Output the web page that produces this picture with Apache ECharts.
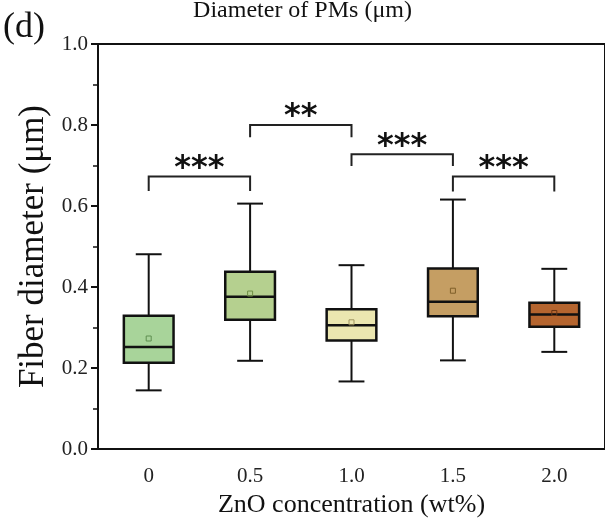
<!DOCTYPE html>
<html>
<head>
<meta charset="utf-8">
<script src="https://cdn.jsdelivr.net/npm/echarts@6/dist/echarts.min.js"></script>
<style>html,body{margin:0;padding:0;background:#fff;}#c{width:605px;height:523px;}</style>
</head>
<body>
<div id="c"></div>
<script>
const categories = ['0', '0.5', '1.0', '1.5', '2.0'];
const whiskerLow  = [0.145, 0.218, 0.167, 0.219, 0.240];
const q1          = [0.213, 0.319, 0.268, 0.328, 0.302];
const median      = [0.252, 0.376, 0.306, 0.364, 0.332];
const q3          = [0.329, 0.438, 0.345, 0.446, 0.361];
const whiskerHigh = [0.481, 0.606, 0.454, 0.616, 0.445];
const meanVal     = [0.273, 0.384, 0.313, 0.391, 0.336];
const boxColors   = ['#a8d49a', '#b5d08f', '#ebe6b0', '#c59e63', '#b5652f'];
const meanColors  = ['#5f8f50', '#6f8f45', '#a09560', '#7f5f2a', '#6a3515'];

const sigFrom  = [0, 1, 2, 3];
const sigTo    = [1, 2, 3, 4];
const sigTop   = [0.673, 0.800, 0.728, 0.673];
const sigDrop  = [0.637, 0.770, 0.699, 0.636];
const sigText  = ['***', '**', '***', '***'];
const sigTextY = [0.709, 0.837, 0.764, 0.709];

const yTicks = [0, 0.2, 0.4, 0.6, 0.8, 1.0];

const boxData = categories.map((c, i) => [i, whiskerLow[i], q1[i], median[i], q3[i], whiskerHigh[i], meanVal[i]]);
const sigData = sigFrom.map((f, i) => [f, sigTo[i], sigTop[i], sigDrop[i], sigTextY[i], sigText[i]]);

const chart = echarts.init(document.getElementById('c'));
const serif = '"Liberation Serif", "Times New Roman", serif';

function renderBox(params, api) {
  const i = api.value(0);
  const pLow = api.coord([i, api.value(1)]);
  const pQ1 = api.coord([i, api.value(2)]);
  const pMed = api.coord([i, api.value(3)]);
  const pQ3 = api.coord([i, api.value(4)]);
  const pHigh = api.coord([i, api.value(5)]);
  const pMean = api.coord([i, api.value(6)]);
  const band = api.size([1, 0])[0];
  const bw = band * 0.49;
  const cw = band * 0.255;
  const x = pQ1[0];
  const ls = { stroke: '#111', lineWidth: 2 };
  return {
    type: 'group',
    children: [
      { type: 'line', shape: { x1: x, y1: pLow[1], x2: x, y2: pQ1[1] }, style: ls },
      { type: 'line', shape: { x1: x, y1: pQ3[1], x2: x, y2: pHigh[1] }, style: ls },
      { type: 'line', shape: { x1: x - cw / 2, y1: pLow[1], x2: x + cw / 2, y2: pLow[1] }, style: ls },
      { type: 'line', shape: { x1: x - cw / 2, y1: pHigh[1], x2: x + cw / 2, y2: pHigh[1] }, style: ls },
      { type: 'rect', shape: { x: x - bw / 2, y: pQ3[1], width: bw, height: pQ1[1] - pQ3[1] },
        style: { fill: boxColors[i], stroke: '#111', lineWidth: 2.5 } },
      { type: 'line', shape: { x1: x - bw / 2, y1: pMed[1], x2: x + bw / 2, y2: pMed[1] }, style: { stroke: '#111', lineWidth: 2.5 } },
      { type: 'rect', shape: { x: pMean[0] - 2.5, y: pMean[1] - 2.5, width: 5, height: 5 },
        style: { fill: 'none', stroke: meanColors[i], lineWidth: 1 } }
    ]
  };
}

function renderSig(params, api) {
  const a = api.value(0), b = api.value(1);
  const top = api.value(2), drop = api.value(3), ty = api.value(4);
  const pa = api.coord([a, top]);
  const pb = api.coord([b, top]);
  const pad = api.coord([a, drop]);
  const pbd = api.coord([b, drop]);
  const pty = api.coord([a, ty]);
  const mx = (pa[0] + pb[0]) / 2;
  return {
    type: 'group',
    children: [
      { type: 'polyline', shape: { points: [pad, pa, pb, pbd] },
        style: { stroke: '#222', lineWidth: 2, fill: 'none' } },
      { type: 'text', x: mx, y: pty[1] + 7,
        style: { text: sigText[params.dataIndex], fill: '#111',
          font: 'bold 32px "DejaVu Sans", sans-serif', align: 'center', verticalAlign: 'middle' } }
    ]
  };
}

chart.setOption({
  animation: false,
  backgroundColor: '#fff',
  grid: { left: 98, top: 44, width: 513, height: 409, show: true, borderColor: '#111', borderWidth: 2, containLabel: false },
  graphic: [
    { type: 'text', left: 3, top: 10, style: { text: '(d)', font: '36px ' + serif, fill: '#111' } },
    { type: 'text', left: 'center', top: -1, style: { text: 'Diameter of PMs (μm)', font: '24px ' + serif, fill: '#111' } }
  ],
  xAxis: {
    type: 'category',
    data: categories,
    boundaryGap: true,
    axisLine: { lineStyle: { color: '#111', width: 2 } },
    axisTick: { alignWithLabel: true, length: 6, lineStyle: { color: '#111', width: 2 } },
    axisLabel: { color: '#222', fontFamily: serif, fontSize: 21, margin: 17 },
    name: 'ZnO concentration (wt%)',
    nameLocation: 'middle',
    nameGap: 40,
    nameTextStyle: { color: '#111', fontFamily: serif, fontSize: 26 },
    splitLine: { show: false }
  },
  yAxis: {
    type: 'value',
    min: 0, max: 1, interval: 0.2,
    axisLine: { show: true, lineStyle: { color: '#111', width: 2 } },
    axisTick: { show: true, length: 7, lineStyle: { color: '#111', width: 2 } },
    minorTick: { show: true, splitNumber: 2, length: 5, lineStyle: { color: '#111', width: 1.5 } },
    axisLabel: { color: '#222', fontFamily: serif, fontSize: 21, margin: 10,
      formatter: v => yTicks.includes(Math.round(v * 10) / 10) ? v.toFixed(1) : '' },
    splitLine: { show: false },
    name: 'Fiber diameter (μm)',
    nameLocation: 'middle',
    nameRotate: 90,
    nameGap: 44,
    nameTextStyle: { color: '#111', fontFamily: serif, fontSize: 35 }
  },
  series: [
    { type: 'custom', renderItem: renderBox, data: boxData, encode: { x: 0, y: [1, 5] }, clip: false },
    { type: 'custom', renderItem: renderSig, data: sigData, encode: { x: [0, 1], y: [2, 4] }, clip: false }
  ]
});
</script>
</body>
</html>
